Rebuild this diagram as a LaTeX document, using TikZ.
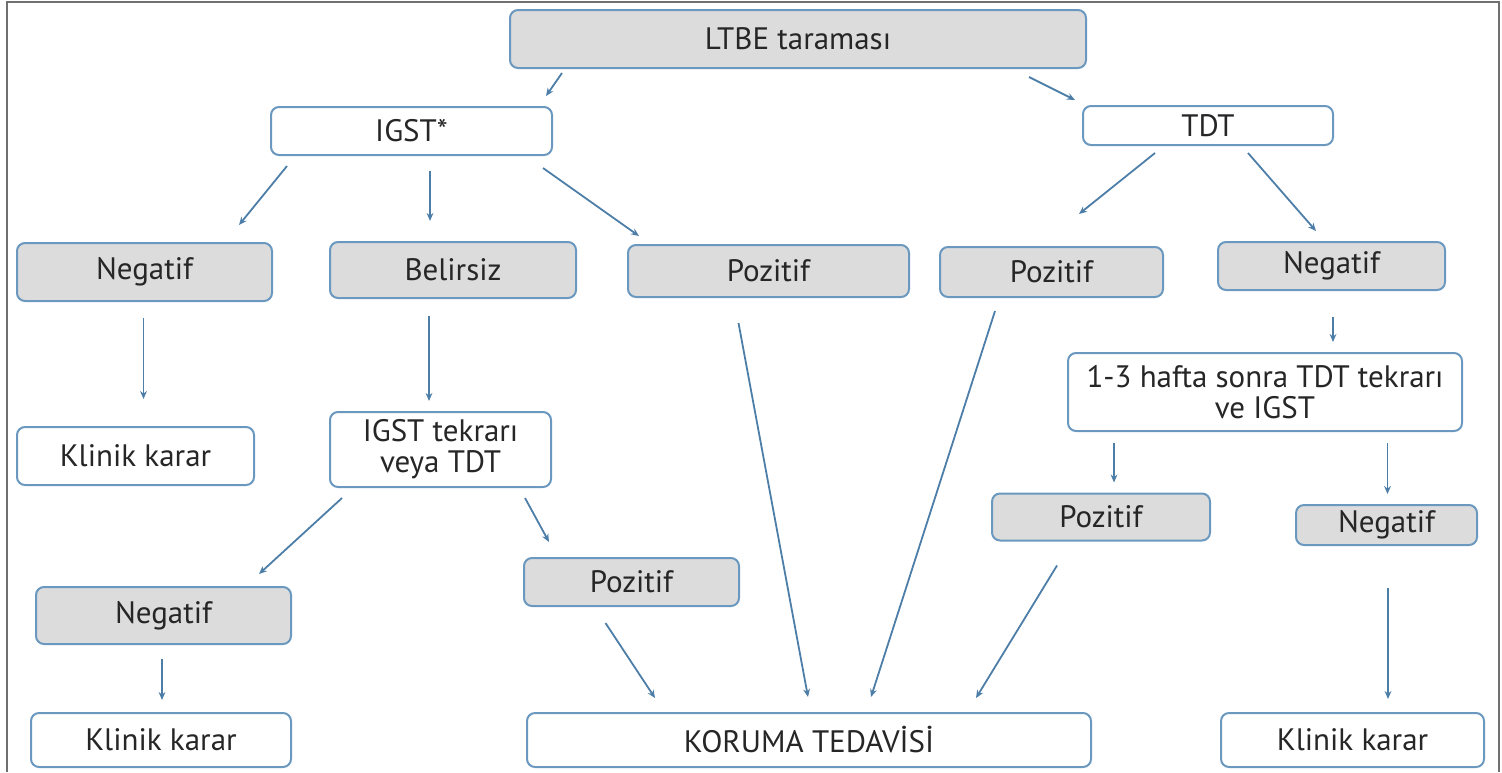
\documentclass[tikz,border=0pt]{standalone}
\usepackage{fontspec}
\setmainfont{PT Sans}
\usetikzlibrary{calc,arrows.meta}

\definecolor{boxblue}{HTML}{6A98BF}
\definecolor{boxgray}{HTML}{DCDCDC}
\definecolor{arrblue}{HTML}{4D7EA8}
\definecolor{txtgray}{HTML}{262626}
\definecolor{framegray}{HTML}{707070}

\tikzset{
  box/.style={draw=boxblue, line width=1pt, rounded corners=4pt, align=center,
    inner sep=1pt, text=txtgray, font=\fontsize{15.5}{15.5}\selectfont},
  graybox/.style={box, fill=boxgray},
  whitebox/.style={box, fill=white},
  arr/.style={draw=arrblue, line width=0.9pt, -{Stealth[length=4pt,width=3.4pt]}},
}

\begin{document}
\begin{tikzpicture}[x=0.5pt,y=-0.5pt]
		\useasboundingbox (0,0) rectangle (1502,772);
		
		% --- frame ---
		\draw[framegray, line width=1.2pt] (7,772) -- (7,2) -- (1499,2) -- (1499,772);
		
		% ======================================================
		% top level
		% ======================================================
		\node[graybox, minimum width=288pt, minimum height=29pt] (ltbe) at (798,39) {LTBE taraması};
		\node[whitebox, minimum width=140.5pt, minimum height=24pt] (igst) at (411.5,131) {IGST*};
		\node[whitebox, minimum width=125pt, minimum height=19.5pt] (tdt) at (1208,125.5) {TDT};
		
		% ======================================================
		% IGST branch
		% ======================================================
		\node[graybox, minimum width=127.5pt, minimum height=29pt] (neg1) at (144.5,272) {Negatif};
		\node[graybox, minimum width=123pt, minimum height=28pt] (bel) at (453,270) {Belirsiz};
		\node[graybox, minimum width=140.5pt, minimum height=26pt] (poz1) at (768.5,271) {Pozitif};
		
		\node[whitebox, minimum width=118.5pt, minimum height=29pt] (klin1) at (135.5,456) {Klinik karar};
		\node[whitebox, minimum width=110.5pt, minimum height=37.5pt] (igsttek) at (440.5,449.5) {IGST tekrarı\\veya TDT};
		
		\node[graybox, minimum width=127.5pt, minimum height=28.5pt] (neg4) at (163.5,615.5) {Negatif};
		\node[graybox, minimum width=107.5pt, minimum height=24pt] (poz4) at (631.5,582) {Pozitif};
		
		% ======================================================
		% TDT branch
		% ======================================================
		\node[graybox, minimum width=111.5pt, minimum height=25pt] (poz2) at (1051.5,272) {Pozitif};
		\node[graybox, minimum width=113.5pt, minimum height=24pt] (neg2) at (1331.5,266) {Negatif};
		
		\node[whitebox, minimum width=197pt, minimum height=39pt] (hafta) at (1265,392) {1-3 hafta sonra TDT tekrarı\\ve IGST};
		
		\node[graybox, minimum width=109pt, minimum height=23.5pt] (poz3) at (1101,517) {Pozitif};
		\node[graybox, minimum width=90.5pt, minimum height=20pt] (neg3) at (1386.5,525) {Negatif};
		
		% ======================================================
		% bottom row
		% ======================================================
		\node[whitebox, minimum width=130pt, minimum height=27pt] (klin2) at (161,740) {Klinik karar};
		\node[whitebox, minimum width=282pt, minimum height=27pt] (koruma) at (809,740) {KORUMA TEDAVİSİ};
		\node[whitebox, minimum width=131.5pt, minimum height=27pt] (klin3) at (1352.5,740) {Klinik karar};
		
		% --- connectors ---
		\draw[arr] ($(ltbe.south west)+(53,4)$) -- ($(igst.north east)+(-7,-10)$);
		\draw[arr] ($(ltbe.south east)+(-58,8)$) -- ($(tdt.north west)+(-7,-5)$);
		
		\draw[arr] ($(igst.south west)+(17,10)$) -- ($(neg1.north east)+(-34,-17)$);
		\draw[arr] ($(igst.south)+(18.5,15)$) -- ($(bel.north)+(-23,-20)$);
		\draw[arr] ($(igst.south east)+(-10,12)$) -- ($(poz1.north west)+(12,-8)$);
		
		\draw[arr] ($(tdt.south)+(-53,7)$) -- ($(poz2.north)+(27.5,-32)$);
		\draw[arr] ($(tdt.south)+(40,7)$) -- ($(neg2.north)+(-15.5,-10)$);
		
		\draw[arr] ($(neg1.south)+(-1,16)$) -- ($(klin1.north)+(8,-27)$);
		\draw[arr] ($(bel.south)+(-24,17)$) -- ($(igsttek.north)+(-11.5,-10)$);
		
		\draw[arr] ($(poz1.south)+(-30,25)$) -- ($(koruma.north)+(-1,-15)$);
		\draw[arr] ($(poz2.south)+(-56.5,13)$) -- ($(koruma.north)+(62,-15)$);
		
		\draw[arr] ($(neg2.south)+(1.5,26)$) -- ($(hafta.north)+(68,-10)$);
		\draw[arr] ($(hafta.south)+(-151,11)$) -- ($(poz3.north)+(13,-10)$);
		\draw[arr] ($(hafta.south)+(122.5,11)$) -- ($(neg3.north)+(1,-10)$);
		
		\draw[arr] ($(igsttek.south west)+(13,10)$) -- ($(neg4.north east)+(-33,-12)$);
		\draw[arr] ($(igsttek.south east)+(-27,10)$) -- ($(poz4.north west)+(26,-15)$);
		
		\draw[arr] ($(neg4.south)+(-1.5,14)$) -- ($(klin2.north)+(1,-12)$);
		\draw[arr] ($(poz4.south)+(-26,16)$) -- ($(koruma.north)+(-154,-14)$);
		\draw[arr] ($(poz3.south)+(-44,24)$) -- ($(koruma.north)+(167,-14)$);
		\draw[arr] ($(neg3.south)+(1.5,42)$) -- ($(klin3.north)+(35.5,-13)$);
		
\end{tikzpicture}
\end{document}
